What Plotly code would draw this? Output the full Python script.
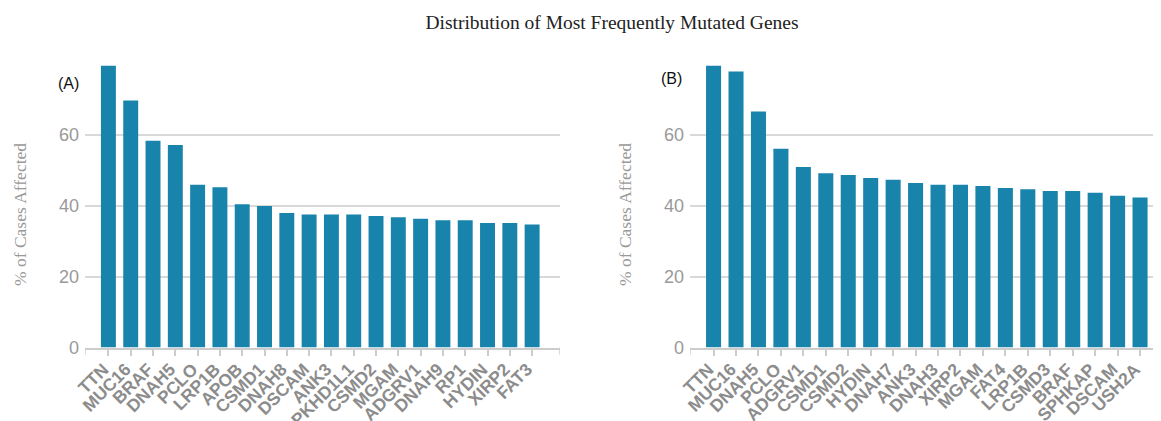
import plotly.graph_objects as go

genes_a = ["TTN", "MUC16", "BRAF", "DNAH5", "PCLO", "LRP1B", "APOB", "CSMD1", "DNAH8", "DSCAM",
           "ANK3", "PKHD1L1", "CSMD2", "MGAM", "ADGRV1", "DNAH9", "RP1", "HYDIN", "XIRP2", "FAT3"]
pct_a = [79.5, 69.6, 58.3, 57.1, 45.9, 45.2, 40.4, 39.9, 37.9, 37.5,
         37.5, 37.5, 37.1, 36.7, 36.3, 35.9, 35.9, 35.1, 35.1, 34.7]

genes_b = ["TTN", "MUC16", "DNAH5", "PCLO", "ADGRV1", "CSMD1", "CSMD2", "HYDIN", "DNAH7", "ANK3",
           "DNAH3", "XIRP2", "MGAM", "FAT4", "LRP1B", "CSMD3", "BRAF", "SPHKAP", "DSCAM", "USH2A"]
pct_b = [79.5, 77.8, 66.5, 56.0, 50.9, 49.1, 48.6, 47.8, 47.3, 46.4,
         45.9, 45.9, 45.5, 45.0, 44.6, 44.1, 44.1, 43.6, 42.8, 42.3]

y_ticks = [0, 20, 40, 60]

BAR = "#1884ab"
GRID = "#d9d9d9"
AXIS = "#cccccc"
TXT = "#999999"

fig = go.Figure()
fig.add_trace(go.Bar(x=genes_a, y=pct_a, marker=dict(color=BAR, line=dict(width=0)),
                     xaxis="x", yaxis="y", showlegend=False))
fig.add_trace(go.Bar(x=genes_b, y=pct_b, marker=dict(color=BAR, line=dict(width=0)),
                     xaxis="x2", yaxis="y2", showlegend=False))

W, H = 1161, 421
OFF = 8  # page body margin


def px_x(p):
    return (p - OFF) / W


def px_y(p):
    return (H - (p - OFF)) / H


y0_px, ytop_px = 347.5, 65.5
ydom = [px_y(y0_px), px_y(ytop_px)]
xdom_a = [px_x(85), px_x(560)]
xdom_b = [px_x(690), 1.0]
xr_a = [-1.05, 20.25]
xr_b = [-1.05, 20.29]

xcommon = dict(type="category", showline=True, linecolor=AXIS, linewidth=1.5,
               ticks="outside", ticklen=7, tickcolor=AXIS, tickwidth=1.5,
               tickangle=-45, showgrid=False, zeroline=False, fixedrange=True, automargin=False,
               ticklabelshift=-5, ticklabelstandoff=-4,
               tickfont=dict(family="Liberation Sans, Arial", size=17.5, color="#8c8c8c"))
ycommon = dict(range=[0, 79.5], tickvals=y_ticks, showgrid=True, gridcolor=GRID, gridwidth=1.5,
               showline=False, zeroline=False, ticks="", ticklabelstandoff=5, automargin=False,
               tickfont=dict(family="Liberation Sans, Arial", size=18, color=TXT))

fig.update_layout(
    width=W, height=H,
    margin=dict(l=0, r=0, t=0, b=0, autoexpand=False),
    paper_bgcolor="white", plot_bgcolor="white",
    bargap=0.33,
    xaxis=dict(domain=xdom_a, range=xr_a, anchor="y", tickvals=genes_a,
               ticktext=["<b>" + g + "</b>" for g in genes_a], **xcommon),
    yaxis=dict(domain=ydom, anchor="x", **ycommon),
    xaxis2=dict(domain=xdom_b, range=xr_b, anchor="y2", tickvals=genes_b,
                ticktext=["<b>" + g + "</b>" for g in genes_b], **xcommon),
    yaxis2=dict(domain=ydom, anchor="x2", **ycommon),
    title=dict(text="Distribution of Most Frequently Mutated Genes", x=px_x(612), xanchor="center",
               y=px_y(22), yanchor="middle",
               font=dict(family="Liberation Serif, Times New Roman", size=19.5, color="#222222")),
)

annotations = [
    dict(text="% of Cases Affected", textangle=-90, x=px_x(20), y=px_y(215), xref="paper", yref="paper",
         showarrow=False, xanchor="center", yanchor="middle",
         font=dict(family="Liberation Serif, Times New Roman", size=17.5, color=TXT)),
    dict(text="% of Cases Affected", textangle=-90, x=px_x(625), y=px_y(215), xref="paper", yref="paper",
         showarrow=False, xanchor="center", yanchor="middle",
         font=dict(family="Liberation Serif, Times New Roman", size=17.5, color=TXT)),
    dict(text="(A)", x=px_x(68), y=px_y(83), xref="paper", yref="paper", showarrow=False,
         xanchor="center", yanchor="middle",
         font=dict(family="Liberation Sans, Arial", size=16, color="#111111")),
    dict(text="(B)", x=px_x(671), y=px_y(78), xref="paper", yref="paper", showarrow=False,
         xanchor="center", yanchor="middle",
         font=dict(family="Liberation Sans, Arial", size=16, color="#111111")),
]
fig.update_layout(annotations=annotations)

# axis end caps
shapes = []
for xref, yref, xs in [("x", "y domain", xr_a), ("x2", "y2 domain", xr_b)]:
    for xv in xs:
        shapes.append(dict(type="line", xref=xref, yref=yref, x0=xv, x1=xv, y0=0, y1=-7 / (y0_px - ytop_px),
                           line=dict(color=AXIS, width=1.5)))
fig.update_layout(shapes=shapes)

fig.write_html("out.html")
